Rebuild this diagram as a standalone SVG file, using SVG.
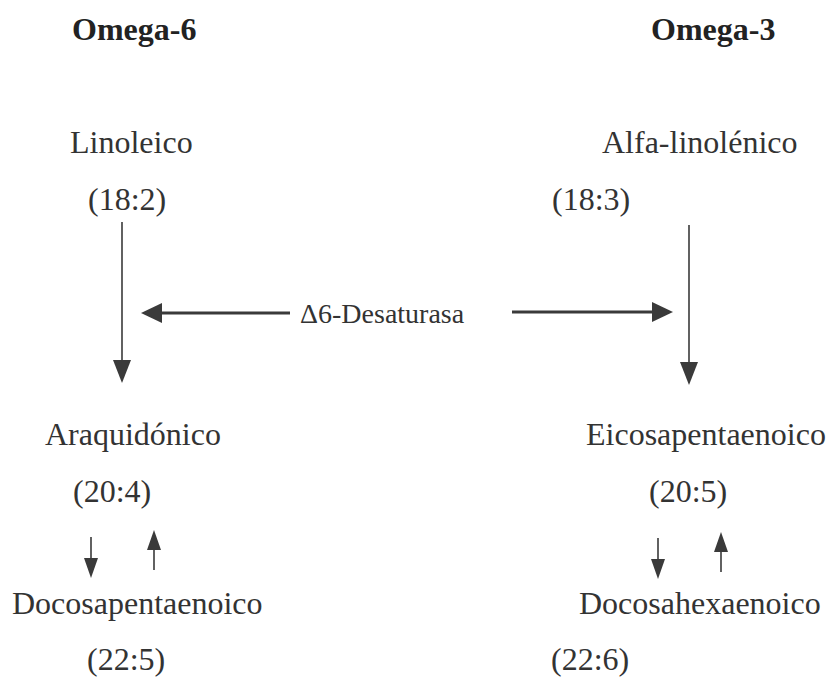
<svg xmlns="http://www.w3.org/2000/svg" width="837" height="677" viewBox="0 0 837 677" font-family="'Liberation Serif', 'DejaVu Serif', serif">
<style>
text{font-family:'Liberation Serif','DejaVu Serif',serif;fill:#333;font-size:32px}
.h{font-weight:bold;fill:#222}
.c{stroke:#3a3a3a;fill:none}
.hd{fill:#3a3a3a}
</style>
<rect width="837" height="677" fill="#fff"/>
<g id="omega6-title"><text class="h" x="72" y="40">Omega-6</text></g>
<g id="omega3-title"><text class="h" x="651" y="40">Omega-3</text></g>
<g id="linoleico"><text x="70" y="153">Linoleico</text><text x="88" y="210">(18:2)</text></g>
<g id="alfa-linolenico"><text x="602" y="153">Alfa-linolénico</text><text x="552" y="210">(18:3)</text></g>
<g id="desaturasa"><text x="300" y="323" style="font-size:28px">Δ6-Desaturasa</text></g>
<g id="araquidonico"><text x="45" y="445">Araquidónico</text><text x="73" y="502">(20:4)</text></g>
<g id="eicosapentaenoico"><text x="586" y="445">Eicosapentaenoico</text><text x="649" y="502">(20:5)</text></g>
<g id="docosapentaenoico"><text x="12" y="614">Docosapentaenoico</text><text x="87" y="670">(22:5)</text></g>
<g id="docosahexaenoico"><text x="579" y="614">Docosahexaenoico</text><text x="551" y="670">(22:6)</text></g>
<g id="connectors">
<line class="c" x1="122" y1="222" x2="122" y2="362" stroke-width="1.6"/>
<polygon class="hd" points="113,360 131,360 122,383"/>
<line class="c" x1="689" y1="225" x2="689" y2="364" stroke-width="1.6"/>
<polygon class="hd" points="680,362 698,362 689,385"/>
<line class="c" x1="160" y1="313" x2="290" y2="313" stroke-width="3"/>
<polygon class="hd" points="162,303 162,323 141,313"/>
<line class="c" x1="512" y1="312" x2="655" y2="312" stroke-width="3"/>
<polygon class="hd" points="652,302 652,322 673,312"/>
<line class="c" x1="91" y1="537" x2="91" y2="560" stroke-width="1.6"/>
<polygon class="hd" points="84,558 98,558 91,578"/>
<line class="c" x1="154" y1="570" x2="154" y2="548" stroke-width="1.6"/>
<polygon class="hd" points="147,550 161,550 154,530"/>
<line class="c" x1="658" y1="538" x2="658" y2="561" stroke-width="1.6"/>
<polygon class="hd" points="651,559 665,559 658,579"/>
<line class="c" x1="721" y1="572" x2="721" y2="550" stroke-width="1.6"/>
<polygon class="hd" points="714,552 728,552 721,532"/>
</g>
</svg>
